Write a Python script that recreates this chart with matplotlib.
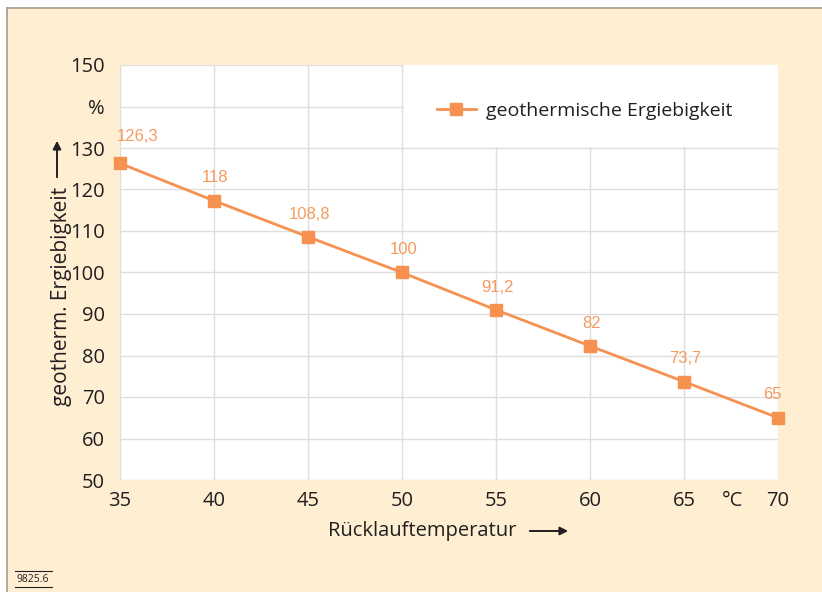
import matplotlib
matplotlib.use("Agg")
import matplotlib.pyplot as plt
from matplotlib.patches import Rectangle, FancyArrowPatch
from matplotlib.lines import Line2D

# Daten
temperatur = [35, 40, 45, 50, 55, 60, 65, 70]
ergiebigkeit = [126.3, 117.3, 108.6, 100, 91.0, 82.3, 73.7, 65]
werte_text = ["126,3", "118", "108,8", "100", "91,2", "82", "73,7", "65"]
y_ticks = [50, 60, 70, 80, 90, 100, 110, 120, 130, 140, 150]
y_ticklabels = ["50", "60", "70", "80", "90", "100", "110", "120", "130", "%", "150"]
x_ticks = [35, 40, 45, 50, 55, 60, 65, 70]

ORANGE = "#F7914F"
LABEL_ORANGE = "#F59A5E"
CREAM = "#FEEFD3"
TEXT = "#231F20"

plt.rcParams["font.family"] = ["Open Sans", "DejaVu Sans"]

fig = plt.figure(figsize=(8.22, 5.92), dpi=100)
W, H = 822, 592

# Hintergrund
fig.patches.append(Rectangle((7 / W, 0), 1 - 7 / W, 1 - 8 / H, transform=fig.transFigure,
                             facecolor=CREAM, edgecolor="none", zorder=-10))
fig.lines.append(Line2D([7 / W, 1], [1 - 8 / H, 1 - 8 / H], transform=fig.transFigure,
                        color="#A89C8C", lw=1.2))
fig.lines.append(Line2D([7 / W, 7 / W], [0, 1 - 8 / H], transform=fig.transFigure,
                        color="#A89C8C", lw=1.2))

ax = fig.add_axes([120 / W, (H - 480) / H, (778 - 120) / W, (480 - 65) / H])
ax.set_facecolor("white")
ax.set_xlim(35, 70)
ax.set_ylim(50, 150)
for s in ax.spines.values():
    s.set_visible(False)
ax.grid(True, color="#DEDEDE", lw=1)
ax.set_axisbelow(True)
ax.set_xticks(x_ticks)
ax.set_yticks(y_ticks)
ax.set_yticklabels(y_ticklabels)
ax.tick_params(length=0, labelsize=14.5, colors=TEXT)
ax.tick_params(axis="x", pad=8)
ax.tick_params(axis="y", pad=11)

# weisse Legendenflaeche
ax.add_patch(Rectangle((50.1, 130.25), 19.9, 19.75, facecolor="white", edgecolor="none", zorder=1))

ax.plot(temperatur, ergiebigkeit, color=ORANGE, lw=2, marker="s", markersize=9,
        label="geothermische Ergiebigkeit", zorder=3, clip_on=False)

for i, (x, y, t) in enumerate(zip(temperatur, ergiebigkeit, werte_text)):
    if i == 0:
        off, ha = (-2, 14), "left"
    elif i == len(temperatur) - 1:
        off, ha = (-4, 11), "center"
    else:
        off, ha = (1, 11), "center"
    ax.annotate(t, (x, y), xytext=off, textcoords="offset points", ha=ha,
                va="bottom", color=LABEL_ORANGE, fontsize=12, family="Liberation Sans")

ax.legend(loc="upper left", bbox_to_anchor=(0.455, 0.953), frameon=False, fontsize=14,
          handlelength=2.0, labelcolor=TEXT, handletextpad=0.5)

# Einheit °C
ax.annotate("°C", (67.6, 50), xytext=(0, -8), textcoords="offset points",
            ha="center", va="top", fontsize=14.5, color=TEXT, annotation_clip=False)

# Achsentitel
fig.text(422 / W, 1 - 531 / H, "Rücklauftemperatur", ha="center", va="center",
         fontsize=14.5, color=TEXT)
fig.add_artist(FancyArrowPatch((527 / W, 1 - 531 / H), (571 / W, 1 - 531 / H),
               transform=fig.transFigure, arrowstyle="-|>", mutation_scale=12, color=TEXT, lw=1.4))
fig.text(61 / W, 1 - 296 / H, "geotherm. Ergiebigkeit", ha="center", va="center",
         rotation=90, fontsize=15, color=TEXT)
fig.add_artist(FancyArrowPatch((57 / W, 1 - 180 / H), (57 / W, 1 - 138 / H),
               transform=fig.transFigure, arrowstyle="-|>", mutation_scale=12, color=TEXT, lw=1.4))

# Bildnummer
fig.text(33 / W, 1 - 579 / H, "9825.6", ha="center", va="center", fontsize=7.5, color=TEXT)
fig.lines.append(Line2D([15 / W, 52 / W], [1 - 571 / H, 1 - 571 / H], transform=fig.transFigure,
                        color=TEXT, lw=0.8))
fig.lines.append(Line2D([15 / W, 52 / W], [1 - 587 / H, 1 - 587 / H], transform=fig.transFigure,
                        color=TEXT, lw=0.8))

fig.savefig("out.png", dpi=100, facecolor="white")
